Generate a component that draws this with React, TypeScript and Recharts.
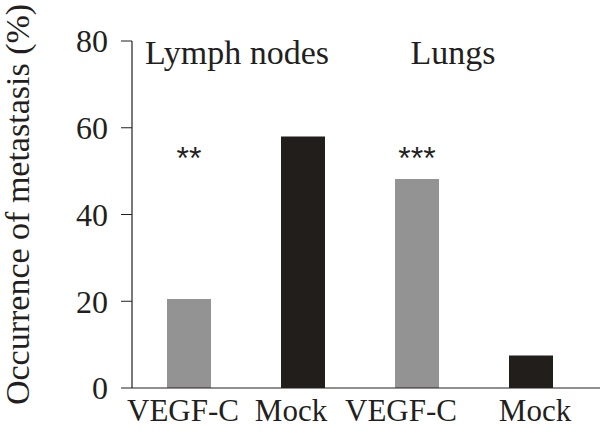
import { BarChart, Bar, XAxis, YAxis, Cell, ReferenceDot, Label } from "recharts"

// categories (unique keys) and what is printed under each bar
const categories = ["ln-vegf", "ln-mock", "lu-vegf", "lu-mock"]
const tickLabels = ["VEGF-C", "Mock", "VEGF-C", "Mock"]
const tickShift = [-6, -12, -16, 4]
const occurrence = [20.5, 58, 48.2, 7.5]
const yTicks = [0, 20, 40, 60, 80]

// organ headings, anchored on the VEGF-C bar of each group
const headingCategories = ["ln-vegf", "lu-vegf"]
const headings = ["Lymph nodes", "Lungs"]
const headingShift = [48, 36]
const headingLevel = 77.3

// significance marks drawn above the VEGF-C bars
const sigCategories = ["ln-vegf", "lu-vegf"]
const sigMarks = ["**", "***"]
const sigLevel = 53

const GRAY = "#939393"
const BLACK = "#221e1c"
const INK = "#231f20"
const barColors = [GRAY, BLACK, GRAY, BLACK]

const serif = "Liberation Serif"
const sans = "Liberation Sans"

const data = categories.map((c, i) => ({ key: c, value: occurrence[i] }))

const YTitle = (props: any) => {
  const { viewBox } = props
  const x = viewBox.x + 17
  const y = viewBox.y + viewBox.height / 2 - 10
  return (
    <text
      x={x}
      y={y}
      transform={`rotate(-90, ${x}, ${y})`}
      textAnchor="middle"
      dominantBaseline="central"
      style={{ fontFamily: serif, fontSize: 34 }}
      fill={INK}
    >
      Occurrence of metastasis (%)
    </text>
  )
}

const headingLabel = (text: string, shift: number) => (props: any) => {
  const { viewBox } = props
  return (
    <text
      x={viewBox.x + shift}
      y={viewBox.y}
      textAnchor="middle"
      dominantBaseline="central"
      style={{ fontFamily: serif, fontSize: 34 }}
      fill={INK}
    >
      {text}
    </text>
  )
}

const CategoryTick = (props: any) => {
  const { x, y, index } = props
  return (
    <text
      x={x + tickShift[index]}
      y={y + 22}
      textAnchor="middle"
      style={{ fontFamily: serif, fontSize: 31 }}
      fill={INK}
    >
      {tickLabels[index]}
    </text>
  )
}

export default function App() {
  return (
    <div style={{ width: 600, height: 437, background: "#fff" }}>
      <style>{"body{margin:0}"}</style>
      <BarChart
        width={600}
        height={437}
        data={data}
        margin={{ top: 41, right: 0, bottom: 0, left: 0 }}
      >
        <XAxis
          dataKey="key"
          height={49}
          padding={{ left: 0, right: 12 }}
          axisLine={{ stroke: INK, strokeWidth: 1.2 }}
          tickLine={false}
          tickSize={6}
          tickMargin={5}
          tick={<CategoryTick />}
          interval={0}
        />
        <YAxis
          width={132}
          domain={[0, 80]}
          ticks={yTicks}
          interval={0}
          axisLine={{ stroke: INK, strokeWidth: 1.2 }}
          tickLine={{ stroke: INK }}
          tickSize={11}
          tickMargin={13}
          tick={{ style: { fontFamily: serif, fontSize: 32 }, fill: INK }}
        >
          <Label content={YTitle} />
        </YAxis>
        <Bar dataKey="value" barSize={44} isAnimationActive={false}>
          {data.map((_d, i) => (
            <Cell key={i} fill={barColors[i]} />
          ))}
        </Bar>
        {headingCategories.map((c, i) => (
          <ReferenceDot
            key={"h" + c}
            x={c}
            y={headingLevel}
            r={0}
            stroke="none"
            fill="none"
            label={headingLabel(headings[i], headingShift[i])}
          />
        ))}
        {sigCategories.map((c, i) => (
          <ReferenceDot
            key={"s" + c}
            x={c}
            y={sigLevel}
            r={0}
            stroke="none"
            fill="none"
            label={{
              value: sigMarks[i],
              position: "center",
              style: { fontFamily: sans, fontSize: 32 },
              fill: INK,
            }}
          />
        ))}
      </BarChart>
    </div>
  )
}
